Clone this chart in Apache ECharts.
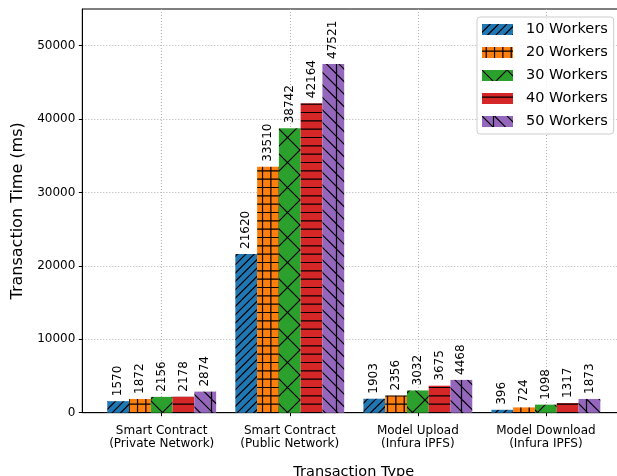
<!DOCTYPE html>
<html>
<head>
<meta charset="utf-8">
<script src="https://cdn.jsdelivr.net/npm/echarts@6/dist/echarts.min.js"></script>
<style>
  html, body { margin: 0; padding: 0; background: #fff; }
  #chart { width: 617px; height: 476px; }
</style>
</head>
<body>
<div id="chart"></div>
<script>
var categories = ['Smart Contract\n(Private Network)', 'Smart Contract\n(Public Network)', 'Model Upload\n(Infura IPFS)', 'Model Download\n(Infura IPFS)'];
var seriesNames = ['10 Workers', '20 Workers', '30 Workers', '40 Workers', '50 Workers'];
var workers10 = [1570, 21620, 1903, 396];
var workers20 = [1872, 33510, 2356, 724];
var workers30 = [2156, 38742, 3032, 1098];
var workers40 = [2178, 42164, 3675, 1317];
var workers50 = [2874, 47521, 4468, 1873];
var categoryTicks = [0, 1, 2, 3];

var FONT = 'DejaVu Sans';
var TILE = 25;

// hatch tiles, anchored to the canvas origin like matplotlib hatches
function hatch(bg, draw) {
  var c = document.createElement('canvas');
  c.width = TILE; c.height = TILE;
  var ctx = c.getContext('2d');
  ctx.fillStyle = bg;
  ctx.fillRect(0, 0, TILE, TILE);
  ctx.strokeStyle = '#000';
  ctx.lineWidth = 1.2;
  ctx.beginPath();
  draw(ctx);
  ctx.stroke();
  return { image: c, repeat: 'repeat' };
}
function diag(ctx, n, dir) {
  var p = TILE / n;
  for (var k = -n; k <= n; k++) {
    if (dir > 0) { ctx.moveTo(k * p, TILE); ctx.lineTo(k * p + TILE, 0); }
    else { ctx.moveTo(k * p, 0); ctx.lineTo(k * p + TILE, TILE); }
  }
}
function horiz(ctx, n) {
  var p = TILE / n;
  for (var i = 0; i < n; i++) { ctx.moveTo(0, i * p + p / 2); ctx.lineTo(TILE, i * p + p / 2); }
}
function vert(ctx, n, off) {
  var p = TILE / n;
  for (var i = 0; i < n; i++) { ctx.moveTo(i * p + off, 0); ctx.lineTo(i * p + off, TILE); }
}

var fills = [
  hatch('#1f77b4', function (ctx) { diag(ctx, 3, 1); }),
  hatch('#ff7f0e', function (ctx) { horiz(ctx, 3); vert(ctx, 3, 4.2); }),
  hatch('#2ca02c', function (ctx) { diag(ctx, 1, 1); diag(ctx, 1, -1); }),
  hatch('#d62728', function (ctx) { horiz(ctx, 3); }),
  hatch('#9467bd', function (ctx) { diag(ctx, 2, -1); vert(ctx, 1, 11.5); })
];

var values = [workers10, workers20, workers30, workers40, workers50];

var myChart = echarts.init(document.getElementById('chart'));

var option = {
  animation: false,
  textStyle: { fontFamily: FONT },
  grid: {
    left: 82.3,
    top: 9,
    width: 543,
    height: 403.7,
    outerBoundsMode: 'none',
    containLabel: false,
    show: true,
    borderColor: '#000',
    borderWidth: 1
  },
  legend: {
    orient: 'vertical',
    left: 477,
    top: 17,
    icon: 'rect',
    itemWidth: 31,
    itemHeight: 11,
    itemGap: 8,
    padding: [5, 6, 5, 5],
    borderColor: '#cccccc',
    borderWidth: 1,
    borderRadius: 3,
    backgroundColor: 'rgba(255,255,255,0.8)',
    textStyle: { fontSize: 14.5, fontFamily: FONT, color: '#000', lineHeight: 14, padding: [0, 0, 0, 8] },
    data: seriesNames
  },
  xAxis: {
    type: 'value',
    min: -0.62,
    max: 3.62,
    name: 'Transaction Type',
    nameLocation: 'middle',
    nameGap: 52,
    nameTextStyle: { fontSize: 14.5, color: '#000', fontFamily: FONT },
    axisLine: { onZero: false, lineStyle: { color: '#000', width: 1 } },
    axisTick: { length: 3.5, customValues: categoryTicks, lineStyle: { color: '#000' } },
    axisLabel: {
      customValues: categoryTicks,
      fontSize: 12,
      lineHeight: 13.5,
      color: '#000',
      margin: 11,
      formatter: function (v) { return categories[Math.round(v)]; }
    },
    splitLine: { show: true, lineStyle: { color: '#b0b0b0', type: [1, 2], width: 1 } }
  },
  yAxis: {
    type: 'value',
    min: 0,
    max: 55000,
    interval: 10000,
    name: 'Transaction Time (ms)',
    nameLocation: 'middle',
    nameGap: 56,
    nameTextStyle: { fontSize: 16, color: '#000', fontFamily: FONT },
    axisLine: { show: true, onZero: false, lineStyle: { color: '#000', width: 1 } },
    axisTick: { show: true, length: 3.5, lineStyle: { color: '#000' } },
    axisLabel: {
      fontSize: 12,
      color: '#000',
      margin: 7,
      showMaxLabel: false,
      formatter: function (v) { return String(v); }
    },
    splitLine: { show: true, showMaxLine: false, lineStyle: { color: '#b0b0b0', type: [1, 2], width: 1 } }
  },
  series: values.map(function (arr, s) {
    return {
      name: seriesNames[s],
      type: 'bar',
      barWidth: 21.77,
      barGap: '0%',
      data: arr.map(function (v, i) { return [i, v]; }),
      itemStyle: { color: fills[s] },
      emphasis: { disabled: true },
      label: {
        show: true,
        position: 'top',
        rotate: 90,
        align: 'left',
        verticalAlign: 'middle',
        distance: 5,
        fontSize: 12,
        color: '#000',
        formatter: function (p) { return p.value[1]; }
      }
    };
  })
};

myChart.setOption(option);
window.addEventListener('resize', function () {
  myChart.resize();
});
</script>
</body>
</html>
